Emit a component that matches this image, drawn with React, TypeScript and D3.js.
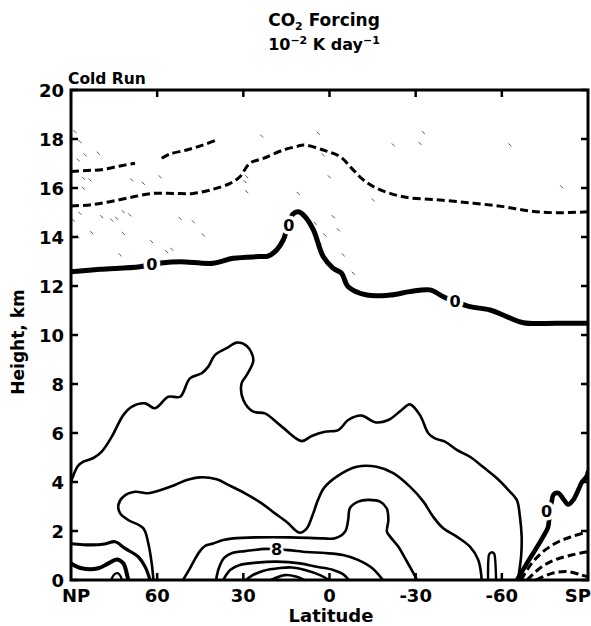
import React from "react";
import * as d3 from "d3";

type P = [number, number]; // [latitude, height km]

// ---- axes ----
const xTickValues = [90, 60, 30, 0, -30, -60, -90];
const xTickLabels = ["NP", "60", "30", "0", "-30", "-60", "SP"];
const yTickValues = [0, 2, 4, 6, 8, 10, 12, 14, 16, 18, 20];
const yTickLabels = ["0", "2", "4", "6", "8", "10", "12", "14", "16", "18", "20"];

// ---- contours (lat, km) ----
const outerContour: P[] = [
  [90, 4.0], [87.6, 4.65], [85.7, 4.83], [82.2, 4.98], [79.3, 5.24], [75.8, 5.85], [71.8, 6.73],
  [68.9, 7.07], [64.2, 7.21], [60.8, 7.01], [56.1, 7.48], [52.0, 7.48], [48.6, 8.23], [44.5, 8.44],
  [42.2, 8.71], [39.9, 9.18], [35.8, 9.46], [32.3, 9.69], [28.8, 9.55], [26.5, 8.98], [28.8, 8.37],
  [30.6, 8.03], [30.0, 7.35], [26.5, 6.87], [22.5, 6.8], [16.6, 6.26], [9.7, 5.67], [6.2, 5.88],
  [1.6, 6.05], [-3.1, 6.12], [-6.5, 6.53], [-11.2, 6.71], [-15.8, 6.44], [-20.5, 6.53], [-25.1, 6.94],
  [-28.0, 7.17], [-31.5, 6.73], [-34.4, 5.99], [-36.7, 5.78], [-40.2, 5.65], [-44.3, 5.31],
  [-48.9, 5.03], [-53.6, 4.6], [-58.2, 4.16], [-62.3, 3.67], [-65.2, 3.27], [-66.3, 2.58],
  [-66.9, 1.77], [-66.7, 0.95], [-65.6, 0],
];
const secondContour: P[] = [
  [61.3, 0], [61.9, 0.68], [63.1, 1.5], [64.8, 2.11], [70.1, 2.45], [72.9, 2.72], [73.5, 3.06],
  [71.8, 3.4], [67.7, 3.6], [63.6, 3.54], [60.8, 3.6], [53.8, 3.88], [49.7, 4.08], [45.1, 4.19],
  [39.3, 4.11], [35.2, 3.88], [29.4, 3.54], [23.6, 3.13], [19.0, 2.72], [14.3, 2.31], [12.0, 2.04],
  [10.3, 1.93], [7.9, 2.11], [6.1, 2.58], [4.0, 3.27], [1.9, 3.76], [-2.5, 4.22], [-9.5, 4.62],
  [-16.4, 4.62], [-22.2, 4.36], [-28.0, 3.81], [-32.7, 3.2], [-36.1, 2.58], [-39.6, 2.11],
  [-44.3, 1.77], [-48.9, 1.36], [-51.8, 0.82], [-53.0, 0],
];
const smallBump60S: P[] = [
  [-55.2, 0], [-55.3, 0.8], [-55.6, 1.05], [-56.4, 1.13], [-57.3, 1.08], [-57.7, 0.8], [-58.0, 0],
];
const polarContourLow: P[] = [
  [90, 1.48], [82.8, 1.43], [78.2, 1.47], [74.7, 1.56], [71.2, 1.29], [66.6, 0.95], [64.2, 0.54], [62.5, 0],
];
const polarContourBold: P[] = [
  [90, 0.68], [86.3, 0.48], [80.5, 0.48], [77.0, 0.68], [74.1, 0.84], [71.8, 0.68], [70.6, 0.27], [70.1, 0],
];
const polarCap: P[] = [[76.0, 0], [75.0, 0.22], [73.8, 0.28], [72.7, 0.15], [72.3, 0]];
const tropicContour: P[] = [
  [51.0, 0], [48.9, 0.41], [47.2, 0.78], [45.1, 1.18], [43.3, 1.39], [40.5, 1.49], [37.0, 1.63],
  [33.5, 1.7], [25.2, 1.74], [13.8, 1.74], [2.3, 1.7], [-1.9, 1.7], [-5.4, 1.97], [-6.5, 2.45],
  [-7.1, 2.93], [-10.0, 3.2], [-13.5, 3.27], [-17.6, 3.2], [-19.9, 2.93], [-20.5, 2.45], [-20.0, 1.97],
  [-21.1, 1.77], [-24.0, 1.36], [-26.3, 0.89], [-28.6, 0.41], [-30.5, 0],
];
const contour8: P[] = [
  [39.5, 0], [38.5, 0.49], [36.7, 0.9], [33.9, 1.1], [29.4, 1.18], [22.1, 1.27], [18.4, 1.25],
  [14.4, 1.22], [7.8, 1.14], [1.6, 1.1], [-4.7, 1.02], [-9.9, 0.82], [-14.8, 0.49], [-18.6, 0],
];
const contourInner1: P[] = [
  [37.0, 0], [34.6, 0.41], [31.2, 0.61], [25.3, 0.71], [18.4, 0.75], [10.3, 0.68], [4.5, 0.54],
  [-1.3, 0.41], [-4.7, 0.24], [-6.8, 0],
];
const contourInner2: P[] = [
  [29.1, 0], [27.3, 0.16], [23.2, 0.37], [17.2, 0.49], [13.1, 0.51], [8.5, 0.41], [3.3, 0.2], [0.2, 0],
];
const contourInner3: P[] = [[20.4, 0], [15.5, 0.2], [11.7, 0.14], [8.9, 0]];

const zeroContour: P[] = [
  [90, 12.58], [79.9, 12.68], [66.0, 12.79], [57.9, 12.95], [52.0, 12.99], [40.5, 12.93], [33.5, 13.13],
  [24.2, 13.2], [21.4, 13.22], [18.4, 13.47], [16.1, 13.88], [14.4, 14.49], [12.7, 14.94], [10.9, 15.03],
  [8.5, 14.83], [5.6, 14.29], [2.2, 13.2], [-1.3, 12.72], [-4.2, 12.52], [-6.5, 11.97], [-13.0, 11.63],
  [-21.1, 11.63], [-28.0, 11.77], [-35.0, 11.84], [-39.6, 11.56], [-43.7, 11.36], [-48.9, 11.16],
  [-55.9, 11.02], [-61.7, 10.75], [-67.5, 10.5], [-79.1, 10.48], [-90, 10.48],
];
const zeroContourSP: P[] = [
  [-65.3, 0], [-68.7, 0.68], [-71.6, 1.22], [-74.4, 1.77], [-76.1, 2.16], [-76.6, 2.7], [-77.4, 3.22],
  [-78.0, 3.49], [-79.6, 3.55], [-81.4, 3.31], [-83.1, 3.08], [-84.9, 3.27], [-86.6, 3.67],
  [-87.9, 4.0], [-89.5, 4.22], [-90, 4.41],
];

const dashedUpperA: P[] = [[90, 16.67], [84.5, 16.71], [78.8, 16.76], [72.9, 16.9], [67.7, 17.01]];
const dashedUpperB: P[] = [[58.4, 17.21], [55.5, 17.39], [49.7, 17.55], [43.9, 17.76], [38.7, 17.99]];
const dashedMiddle: P[] = [
  [90, 15.27], [83.4, 15.31], [76.4, 15.44], [68.3, 15.64], [61.3, 15.78], [54.4, 15.78], [47.4, 15.78],
  [40.5, 15.95], [34.6, 16.19], [31.2, 16.46], [27.7, 17.01], [23.0, 17.21], [16.1, 17.55], [10.9, 17.71],
  [9.1, 17.76], [2.2, 17.55], [-3.7, 17.28], [-8.3, 16.73], [-11.8, 16.33], [-16.4, 15.99], [-25.7, 15.64],
  [-38.5, 15.51], [-50.1, 15.38], [-60.5, 15.24], [-69.8, 15.06], [-79.1, 14.99], [-90, 15.03],
];
const dashedSP1: P[] = [[-66.7, 0], [-70.4, 0.68], [-75.0, 1.22], [-79.7, 1.56], [-84.3, 1.77], [-90, 1.97]];
const dashedSP2: P[] = [[-68.8, 0], [-73.9, 0.54], [-78.5, 0.82], [-84.3, 1.02], [-90, 1.16]];
const dashedSP3: P[] = [[-71.9, 0], [-77.4, 0.27], [-83.1, 0.34], [-87.8, 0.2], [-90, 0.13]];

// contour labels
const zeroLabels: P[] = [[61.9, 12.86], [14.2, 14.45], [-43.7, 11.36], [-75.6, 2.78]];
const eightLabel: P = [18.4, 1.25];

// stipple specks in the negative region
const stipple: P[] = [
  [88.6, 18.3], [86.9, 17.89], [87.5, 17.14], [85.1, 17.35], [80.5, 17.42], [85.7, 16.4], [83.4, 16.33],
  [85.7, 15.99], [86.9, 14.97], [89.2, 14.69], [87.5, 14.01], [82.8, 14.18], [79.3, 14.83], [75.8, 14.69],
  [74.1, 14.76], [71.8, 15.03], [69.5, 14.9], [71.8, 14.15], [72.9, 13.27], [64.8, 16.19], [68.9, 16.33],
  [59.0, 16.46], [61.9, 13.81], [56.7, 13.4], [54.9, 13.5], [52.0, 14.76], [47.4, 14.62], [43.9, 14.08],
  [28.8, 16.46], [29.4, 16.26], [28.8, 15.85], [23.6, 18.12], [10.9, 15.78], [3.9, 18.23], [2.2, 17.35],
  [0.1, 16.46], [-15.2, 15.51], [-1.3, 14.83], [-3.1, 14.29], [1.6, 14.08], [-4.8, 13.27], [-8.3, 12.52],
  [-22.2, 17.76], [-31.5, 17.82], [-32.7, 18.26], [-62.8, 17.76], [-80.8, 16.05], [5.0, 14.56], [3.3, 13.74],
];

const W = 591;
const H = 626;
const M = { left: 71, right: 588, top: 90, bottom: 580 };

export default function App() {
  const x = d3.scaleLinear().domain([90, -90]).range([M.left, M.right]);
  const y = d3.scaleLinear().domain([0, 20]).range([M.bottom, M.top]);
  const line = d3
    .line<P>()
    .x((d) => x(d[0]))
    .y((d) => y(d[1]))
    .curve(d3.curveCatmullRom.alpha(0.5));

  const solid: { pts: P[]; w: number }[] = [
    { pts: outerContour, w: 2.6 },
    { pts: secondContour, w: 2.6 },
    { pts: smallBump60S, w: 2.4 },
    { pts: polarContourLow, w: 3.2 },
    { pts: polarContourBold, w: 4 },
    { pts: polarCap, w: 2.2 },
    { pts: tropicContour, w: 2.6 },
    { pts: contour8, w: 2.6 },
    { pts: contourInner1, w: 2.6 },
    { pts: contourInner2, w: 2.6 },
    { pts: contourInner3, w: 2.6 },
    { pts: zeroContour, w: 5 },
    { pts: zeroContourSP, w: 4.6 },
  ];
  const dashed: P[][] = [dashedUpperA, dashedUpperB, dashedMiddle, dashedSP1, dashedSP2, dashedSP3];

  const font = "'DejaVu Sans', 'Liberation Sans', sans-serif";

  return (
    <svg
      width={W}
      height={H}
      style={{ position: "absolute", left: 0, top: 0, background: "#fff" }}
      fontFamily={font}
    >
      <defs>
        <clipPath id="plot">
          <rect x={M.left} y={M.top} width={M.right - M.left} height={M.bottom - M.top} />
        </clipPath>
      </defs>
      <rect x={0} y={0} width={W} height={H} fill="#fff" />

      <g clipPath="url(#plot)" fill="none" stroke="#000" strokeLinecap="round" strokeLinejoin="round">
        {stipple.map((d, i) => (
          <line
            key={"s" + i}
            x1={x(d[0]) - 1.2}
            y1={y(d[1]) - 1.2}
            x2={x(d[0]) + 1.2}
            y2={y(d[1]) + 1.2}
            stroke="#555"
            strokeWidth={1}
          />
        ))}
        {solid.map((s, i) => (
          <path key={"c" + i} d={line(s.pts) || ""} strokeWidth={s.w} />
        ))}
        {dashed.map((pts, i) => (
          <path
            key={"d" + i}
            d={line(pts) || ""}
            strokeWidth={3}
            strokeDasharray="8 4"
            strokeLinecap="butt"
          />
        ))}
      </g>

      {/* contour labels */}
      <g fontWeight="bold" fontSize={16} textAnchor="middle" dominantBaseline="central">
        {zeroLabels.map((d, i) => (
          <text
            key={"z" + i}
            x={x(d[0])}
            y={y(d[1])}
            fill="#000"
            stroke="#fff"
            strokeWidth={7}
            paintOrder="stroke"
          >
            0
          </text>
        ))}
        <text
          x={x(eightLabel[0])}
          y={y(eightLabel[1])}
          fill="#000"
          stroke="#fff"
          strokeWidth={5}
          paintOrder="stroke"
        >
          8
        </text>
      </g>

      {/* frame */}
      <rect
        x={M.left}
        y={M.top}
        width={M.right - M.left}
        height={M.bottom - M.top}
        fill="none"
        stroke="#000"
        strokeWidth={3}
      />
      {/* ticks */}
      <g stroke="#000" strokeWidth={2.5}>
        {yTickValues.map((v) => (
          <g key={"yt" + v}>
            <line x1={M.left} x2={M.left + 7} y1={y(v)} y2={y(v)} />
            <line x1={M.right} x2={M.right - 7} y1={y(v)} y2={y(v)} />
          </g>
        ))}
        {xTickValues.slice(1, -1).map((v) => (
          <g key={"xt" + v}>
            <line x1={x(v)} x2={x(v)} y1={M.top} y2={M.top + 7} />
            <line x1={x(v)} x2={x(v)} y1={M.bottom} y2={M.bottom - 7} />
          </g>
        ))}
      </g>

      {/* tick labels */}
      <g fontWeight="bold" fontSize={18} fill="#000">
        {yTickValues.map((v, i) => (
          <text key={"yl" + v} x={64} y={y(v)} textAnchor="end" dominantBaseline="central">
            {yTickLabels[i]}
          </text>
        ))}
        {xTickValues.map((v, i) => (
          <text
            key={"xl" + v}
            x={i === 0 ? 62 : i === xTickValues.length - 1 ? 591 : x(v)}
            y={602}
            textAnchor={i === 0 ? "start" : i === xTickValues.length - 1 ? "end" : "middle"}
          >
            {xTickLabels[i]}
          </text>
        ))}
      </g>

      {/* axis titles */}
      <text x={331} y={622} fontWeight="bold" fontSize={18} textAnchor="middle">
        Latitude
      </text>
      <text
        transform={`translate(24,342) rotate(-90)`}
        fontWeight="bold"
        fontSize={17}
        textAnchor="middle"
      >
        Height, km
      </text>
      <text x={68} y={84} fontWeight="bold" fontSize={15.5}>
        Cold Run
      </text>

      {/* title */}
      <text x={324} y={26} fontWeight="bold" fontSize={17} textAnchor="middle">
        CO
        <tspan fontSize={11} dy={4}>2</tspan>
        <tspan dy={-4}> Forcing</tspan>
      </text>
      <text x={324} y={50} fontWeight="bold" fontSize={16} textAnchor="middle">
        10
        <tspan fontSize={11} dy={-6}>−2</tspan>
        <tspan dy={6}> K day</tspan>
        <tspan fontSize={11} dy={-6}>−1</tspan>
      </text>
    </svg>
  );
}
